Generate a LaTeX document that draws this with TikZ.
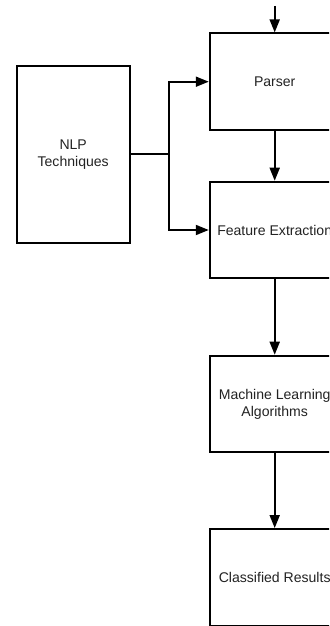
\documentclass[tikz,border=0pt]{standalone}
\usepackage{fontspec}
\setmainfont{Liberation Sans}
\usetikzlibrary{arrows.meta,positioning}
\definecolor{ink}{RGB}{0,0,0}
\definecolor{label}{RGB}{35,35,35}
\tikzset{
  >={Triangle[length=3.9mm,width=3mm]},
  box/.style={draw=ink,line width=1.6pt,fill=white,
    minimum width=3.9cm,minimum height=2.9cm,align=center,text=label,
    font=\fontsize{12}{14.5}\selectfont},
  flow/.style={->,line width=1.6pt,draw=ink},
  wire/.style={line width=1.6pt,draw=ink},
}
\begin{document}
\begin{tikzpicture}[x=0.03cm,y=-0.03cm]
    \useasboundingbox (0,0) rectangle (329,626);
    \clip (0,0) rectangle (329,626);
    \node[box,minimum width=3.39cm,minimum height=5.31cm] (nlp) at (73.2,154.2) {NLP\\Techniques};
    \node[box] (parser) at (274.7,81.7) {Parser};
    \node[box] (feat) at (274.7,230) {Feature Extraction};
    \node[box] (ml) at (274.7,404) {Machine Learning\\Algorithms};
    \node[box,minimum height=2.91cm] (res) at (274.7,577.5) {Classified Results};
    % input from above and the main chain
    \coordinate (in) at (274.7,6);
    \draw[flow] (in) -- (parser);
    \draw[flow] (parser) -- (feat);
    \draw[flow] (feat) -- (ml);
    \draw[flow] (ml) -- (res);
    % NLP feeds both the parser and the feature extraction
    \coordinate (fork) at (169.3,154.2);
    \draw[wire] (nlp) -- (fork);
    \draw[flow] (fork) |- (parser);
    \draw[flow] (fork) |- (feat);
  \end{tikzpicture}
\end{document}
